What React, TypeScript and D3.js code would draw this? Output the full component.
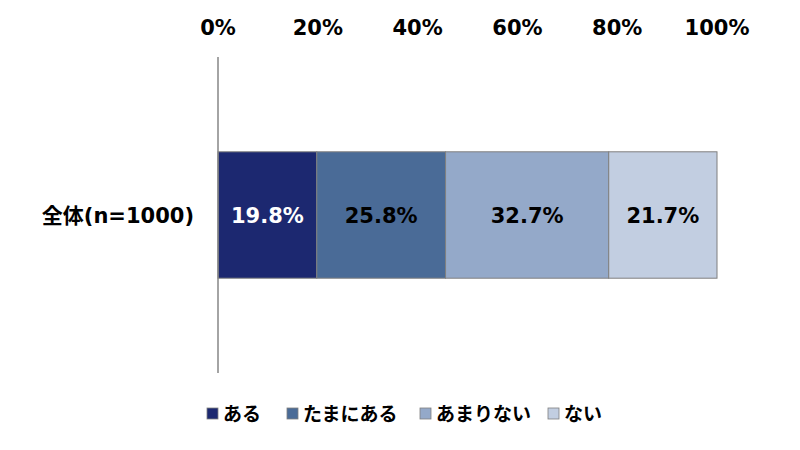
import * as d3 from "d3";
import { useEffect, useRef } from "react";

const categories = ["全体(n=1000)"];
const seriesNames = ["ある", "たまにある", "あまりない", "ない"];
const seriesValues = [[19.8, 25.8, 32.7, 21.7]];
const seriesColors = ["#1c2870", "#4a6b97", "#94a9c9", "#c2cee1"];
const labelColors = ["#ffffff", "#000000", "#000000", "#000000"];
const tickValues = [0, 20, 40, 60, 80, 100];

const FONT = "'DejaVu Sans', 'Noto Sans CJK JP', sans-serif";

export default function App() {
  const svgRef = useRef<SVGSVGElement>(null);

  useEffect(() => {
    const width = 800;
    const height = 450;
    const svg = d3.select(svgRef.current).attr("width", width).attr("height", height);
    svg.selectAll("*").remove();

    const x = d3.scaleLinear().domain([0, 100]).range([218, 717]);
    const y = d3.scaleBand().domain(categories).range([57, 373]).paddingInner(0).paddingOuter(0.75);

    svg.append("rect").attr("width", width).attr("height", height).attr("fill", "#ffffff");

    // tick labels at top
    svg.append("g")
      .selectAll("text")
      .data(tickValues)
      .join("text")
      .attr("x", d => x(d))
      .attr("y", 35)
      .attr("text-anchor", "middle")
      .attr("font-family", FONT)
      .attr("font-weight", "bold")
      .attr("font-size", 21)
      .attr("fill", "#000")
      .text(d => `${d}%`);

    // bars
    categories.forEach((cat, ci) => {
      let acc = 0;
      const vals = seriesValues[ci];
      const total = d3.sum(vals);
      const g = svg.append("g");
      vals.forEach((v, si) => {
        const x0 = x((acc / total) * 100);
        const x1 = x(((acc + v) / total) * 100);
        acc += v;
        g.append("rect")
          .attr("x", x0)
          .attr("y", y(cat)!)
          .attr("width", x1 - x0)
          .attr("height", y.bandwidth())
          .attr("fill", seriesColors[si])
          .attr("stroke", "#7f7f7f")
          .attr("stroke-width", 1);
        g.append("text")
          .attr("x", (x0 + x1) / 2)
          .attr("y", y(cat)! + y.bandwidth() / 2)
          .attr("dy", "0.36em")
          .attr("text-anchor", "middle")
          .attr("font-family", FONT)
          .attr("font-weight", "bold")
          .attr("font-size", 21)
          .attr("fill", labelColors[si])
          .text(`${v.toFixed(1)}%`);
      });

      svg.append("text")
        .attr("x", 194)
        .attr("y", y(cat)! + y.bandwidth() / 2)
        .attr("dy", "0.36em")
        .attr("text-anchor", "end")
        .attr("font-family", FONT)
        .attr("font-weight", "bold")
        .attr("font-size", 21)
        .attr("fill", "#000")
        .text(cat);
    });

    // vertical axis
    svg.append("line")
      .attr("x1", x(0))
      .attr("x2", x(0))
      .attr("y1", 57)
      .attr("y2", 373)
      .attr("stroke", "#868686")
      .attr("stroke-width", 1.5);

    // legend
    const legendX = [207, 287, 420, 548];
    const legend = svg.append("g");
    seriesNames.forEach((name, i) => {
      legend.append("rect")
        .attr("x", legendX[i])
        .attr("y", 408)
        .attr("width", 11)
        .attr("height", 11)
        .attr("fill", seriesColors[i])
        .attr("stroke", "#7f7f7f")
        .attr("stroke-width", 0.8);
      legend.append("text")
        .attr("x", legendX[i] + 16)
        .attr("y", 414)
        .attr("dy", "0.36em")
        .attr("font-family", FONT)
        .attr("font-weight", "bold")
        .attr("font-size", 19)
        .attr("fill", "#000")
        .text(name);
    });
  }, []);

  return <svg ref={svgRef} style={{ position: "absolute", left: 0, top: 0 }}></svg>;
}
